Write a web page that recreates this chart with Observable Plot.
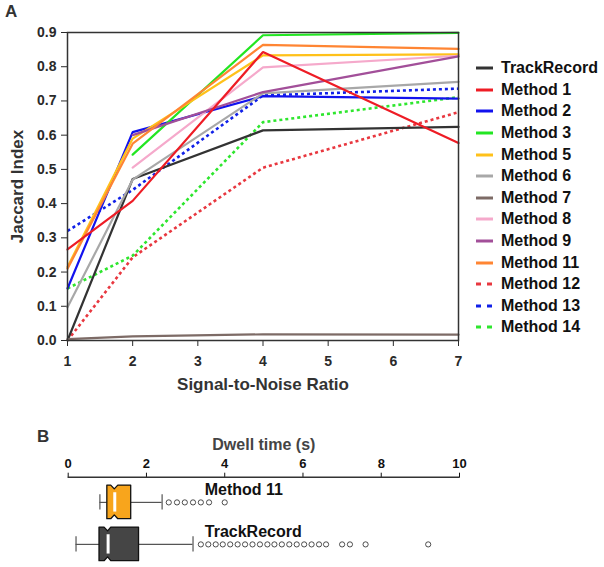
<!DOCTYPE html>
<html>
<head>
<meta charset="utf-8">
<script src="https://cdn.jsdelivr.net/npm/d3@7"></script>
<script src="https://cdn.jsdelivr.net/npm/@observablehq/plot@0.6"></script>
<style>
  html, body { margin: 0; padding: 0; background: #fff; }
  #fig { position: relative; width: 604px; height: 567px; overflow: hidden;
         font-family: "Liberation Sans", Arial, sans-serif; color: #222; }
  .panel { position: absolute; left: 0; }
  .tag { position: absolute; font-size: 17px; font-weight: bold; color: #333; }
  #legend { position: absolute; left: 476px; top: 57.5px; }
  .row { height: 21.6px; display: flex; align-items: center; font-size: 16px; font-weight: bold; color: #111; white-space: nowrap; }
  .row svg { margin-right: 8px; }
  svg { overflow: visible; }
</style>
</head>
<body>
<div id="fig">
  <div class="tag" style="left:5px;top:2px;">A</div>
  <div class="tag" style="left:37px;top:427px;">B</div>
  <div id="panelA" class="panel" style="top:0;"></div>
  <div id="panelB" class="panel" style="top:400px;"></div>
  <div id="legend"></div>
</div>
<script>
// ---------- Panel A data ----------
const snr = [1, 2, 4, 7];
const methods = ["TrackRecord", "Method 1", "Method 2", "Method 3", "Method 5", "Method 6",
  "Method 7", "Method 8", "Method 9", "Method 11", "Method 12", "Method 13", "Method 14"];
const trackRecord = [0.000, 0.472, 0.614, 0.624];
const method1  = [0.266, 0.408, 0.843, 0.577];
const method2  = [0.152, 0.609, 0.714, 0.707];
const method3  = [null,  0.543, 0.892, 0.899];
const method5  = [0.215, 0.590, 0.833, 0.836];
const method6  = [0.097, 0.470, 0.722, 0.756];
const method7  = [0.004, 0.012, 0.018, 0.017];
const method8  = [null,  0.505, 0.798, 0.832];
const method9  = [null,  0.600, 0.726, 0.830];
const method11 = [0.210, 0.575, 0.864, 0.852];
const method12 = [0.000, 0.243, 0.505, 0.667];
const method13 = [0.320, 0.440, 0.716, 0.736];
const method14 = [0.152, 0.248, 0.638, 0.711];
const xTicksA = [1, 2, 3, 4, 5, 6, 7];
const yTicksA = [0.0, 0.1, 0.2, 0.3, 0.4, 0.5, 0.6, 0.7, 0.8, 0.9];

// ---------- Panel B data ----------
const boxLabels = ["Method 11", "TrackRecord"];
const whiskerLo = [0.81, 0.20];
const q1s       = [1.00, 0.80];
const notchLo   = [1.10, 0.93];
const medians   = [1.19, 1.02];
const notchHi   = [1.28, 1.10];
const q3s       = [1.61, 1.81];
const whiskerHi = [2.40, 3.19];
const outliers11 = [2.57, 2.78, 2.98, 3.19, 3.39, 3.60, 4.00];
const outliersTR = [3.39, 3.58, 3.77, 3.95, 4.14, 4.33, 4.52, 4.71, 4.90, 5.09, 5.27, 5.46,
  5.65, 5.84, 6.03, 6.22, 6.41, 6.59, 7.00, 7.20, 7.60, 9.20];
const xTicksB = [0, 2, 4, 6, 8, 10];

// ---------- styles ----------
const colors = ["#333333", "#ee1c25", "#1212ee", "#22e622", "#ffc11a", "#a8a8a8",
  "#7d6b66", "#f5a9cb", "#a24f99", "#ff8533", "#e8373f", "#1020e8", "#2ee62e"];
const dotted = new Set(["Method 12", "Method 13", "Method 14"]);
const boxColors = ["#f8a51c", "#454545"];
const FONT = "'Liberation Sans', Arial, sans-serif";

const seriesValues = [trackRecord, method1, method2, method3, method5, method6, method7,
  method8, method9, method11, method12, method13, method14];
const rows = methods.flatMap((m, i) => snr.map((s, j) => ({method: m, snr: s, v: seriesValues[i][j]})))
  .filter(d => d.v != null);

const drawOrder = [...methods.filter(m => dotted.has(m)), ...methods.filter(m => !dotted.has(m) && m !== "Method 1"), "Method 1"];

const lineMarks = drawOrder.map(m => dotted.has(m)
  ? Plot.line(rows.filter(d => d.method === m), {
      x: "snr", y: "v", stroke: "method", strokeWidth: 2.6,
      strokeDasharray: "3,3", strokeLinecap: "butt"
    })
  : Plot.line(rows.filter(d => d.method === m), {
      x: "snr", y: "v", stroke: "method", strokeWidth: 2.2, strokeLinejoin: "miter"
    }));

const plotA = Plot.plot({
  width: 470, height: 395,
  marginLeft: 67, marginRight: 12, marginTop: 32, marginBottom: 55,
  style: {fontFamily: FONT, fontSize: "14px", fontWeight: "bold", color: "#2a2a2a", background: "transparent"},
  x: {domain: [1, 7], ticks: xTicksA, tickSize: 6, tickPadding: 10, label: null, tickFormat: d3.format("d")},
  y: {domain: [0, 0.9], ticks: yTicksA, tickSize: 6, tickPadding: 5, label: null, tickFormat: d3.format(".1f")},
  color: {domain: methods, range: colors},
  marks: [
    ...lineMarks,
    Plot.frame({stroke: "#333", strokeWidth: 1.5}),
    Plot.text(["Signal-to-Noise Ratio"], {frameAnchor: "bottom", dy: 44, fontSize: 17, fontWeight: "bold", fill: "#333", lineAnchor: "middle"}),
    Plot.text(["Jaccard Index"], {frameAnchor: "left", dx: -49.5, rotate: -90, fontSize: 17, fontWeight: "bold", fill: "#333", lineAnchor: "middle", textAnchor: "middle"})
  ]
});
document.getElementById("panelA").appendChild(plotA);

// legend
const legend = document.getElementById("legend");
methods.forEach((m, i) => {
  const row = document.createElement("div");
  row.className = "row";
  const dash = dotted.has(m) ? 'stroke-dasharray="5,6"' : "";
  row.innerHTML = `<svg width="17" height="6"><line x1="0" x2="17" y1="3" y2="3" stroke="${colors[i]}" stroke-width="3" ${dash}></line></svg><span>${m}</span>`;
  legend.appendChild(row);
});

// ---------- Panel B ----------
const ROW_CENTER = 0.6, HALF = 0.4, NOTCH = 0.09, CAP = 0.18, MED_INSET = 0.17;
const boxes = boxLabels.map((label, i) => ({
  label, c: i + ROW_CENTER, lo: whiskerLo[i], q1: q1s[i], nlo: notchLo[i], med: medians[i],
  nhi: notchHi[i], q3: q3s[i], hi: whiskerHi[i]
}));
const areaPts = boxes.flatMap(b => [
  {label: b.label, x: b.q1,  y1: b.c - HALF, y2: b.c + HALF},
  {label: b.label, x: b.nlo, y1: b.c - HALF, y2: b.c + HALF},
  {label: b.label, x: b.med, y1: b.c - HALF + NOTCH, y2: b.c + HALF - NOTCH},
  {label: b.label, x: b.nhi, y1: b.c - HALF, y2: b.c + HALF},
  {label: b.label, x: b.q3,  y1: b.c - HALF, y2: b.c + HALF}
]);
const outlierRows = [
  ...outliers11.map(v => ({label: boxLabels[0], c: 0 + ROW_CENTER, v})),
  ...outliersTR.map(v => ({label: boxLabels[1], c: 1 + ROW_CENTER, v}))
];
const LABEL_X = 3.49;

const plotB = Plot.plot({
  width: 470, height: 167,
  marginLeft: 67.7, marginRight: 11, marginTop: 76.7, marginBottom: 0,
  style: {fontFamily: FONT, fontSize: "13px", fontWeight: "bold", color: "#111", background: "transparent"},
  x: {domain: [0, 10], axis: "top", ticks: xTicksB, tickSize: 5, tickPadding: 4, label: null},
  y: {domain: [2.15, 0], axis: null},
  color: {domain: boxLabels, range: boxColors},
  marks: [
    Plot.ruleY([0], {stroke: "#333", strokeWidth: 1.5}),
    Plot.ruleY(boxes, {y: "c", x1: "lo", x2: "q1", stroke: "#555", strokeWidth: 1.2}),
    Plot.ruleY(boxes, {y: "c", x1: "q3", x2: "hi", stroke: "#555", strokeWidth: 1.2}),
    Plot.ruleX(boxes, {x: "lo", y1: d => d.c - CAP, y2: d => d.c + CAP, stroke: "#555", strokeWidth: 1.2}),
    Plot.ruleX(boxes, {x: "hi", y1: d => d.c - CAP, y2: d => d.c + CAP, stroke: "#555", strokeWidth: 1.2}),
    Plot.areaY(areaPts, {x: "x", y1: "y1", y2: "y2", z: "label", fill: "label", stroke: "#111", strokeWidth: 1.3}),
    Plot.ruleX(boxes, {x: "med", y1: d => d.c - HALF + MED_INSET, y2: d => d.c + HALF - MED_INSET, stroke: "#fff", strokeWidth: 3}),
    Plot.dot(outlierRows, {x: "v", y: "c", r: 2.6, stroke: "#222", fill: "#fff", strokeWidth: 0.8}),
    Plot.text(boxes, {x: () => LABEL_X, y: "c", text: "label", dy: -12.5, textAnchor: "start", fontSize: 16, fontWeight: "bold", fill: "#111"}),
    Plot.text(["Dwell time (s)"], {frameAnchor: "top", dy: -32.7, fontSize: 16, fontWeight: "bold", fill: "#444", lineAnchor: "middle"})
  ]
});
document.getElementById("panelB").appendChild(plotB);
</script>
</body>
</html>
